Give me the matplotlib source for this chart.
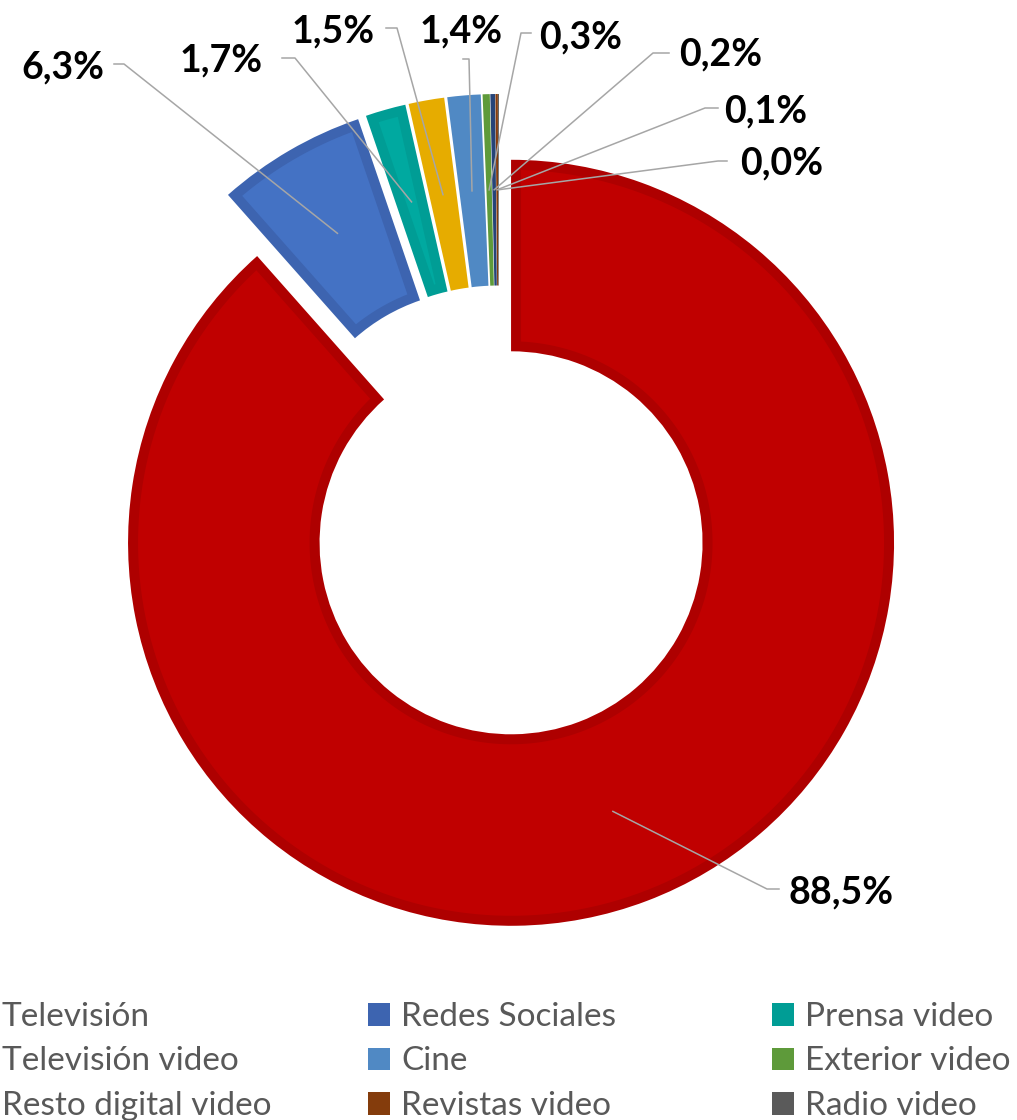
import numpy as np
import matplotlib.pyplot as plt
from matplotlib.patches import Patch

# share of video ad investment by medium (%)
categories = ['Televisión', 'Redes Sociales', 'Prensa video', 'Televisión video',
              'Cine', 'Exterior video', 'Resto digital video', 'Revistas video',
              'Radio video']
shares = [88.5, 6.3, 1.7, 1.5, 1.4, 0.3, 0.2, 0.1, 0.04]

face_colors = ['#C00000', '#4472C4', '#00A9A0', '#FFC000', '#5B9BD5',
               '#6AAA45', '#2F4F86', '#9E480E', '#6E6E6E']
edge_colors = ['#AE0000', '#3D64B0', '#009D95', '#E6AC00', '#5089C4',
               '#5E9A3A', '#264478', '#843C0C', '#5A5A5A']

W, H = 1017, 1120

# label text anchors and leader elbows, in pixels from top-left
label_xy = [(788, 892), (104, 67), (263, 60), (375, 31), (503, 31),
            (539, 37), (679, 54), (724, 111), (740, 163)]
label_ha = ['left', 'right', 'right', 'right', 'right',
            'left', 'left', 'left', 'left']
elbows = [[(779, 889), (767, 889)], [(114, 64), (124, 64)],
          [(282, 58), (295, 58)], [(386, 28), (397, 28)],
          [(463, 59), (469, 59)], [(531, 33), (521, 33)],
          [(669, 53), (653, 53)], [(718, 108), (705, 108)],
          [(727, 161), (718, 161)]]


def flip(x, y):
    return x, H - y


fig = plt.figure(figsize=(W / 100, H / 100), dpi=100)
ax = fig.add_axes([0, 0, 1, 1])

radius = 383
ring = 191.5
wedges, _ = ax.pie(shares, colors=edge_colors, startangle=90,
                   counterclock=False, radius=radius,
                   center=flip(499, 511), explode=[34] * len(shares),
                   wedgeprops=dict(width=ring, linewidth=0))

# lighter inset on each slice -> darker rim like the bevelled Excel slices
band = 10
for w, fc in zip(wedges, face_colors):
    cx, cy = w.center
    t1, t2 = np.deg2rad(w.theta1), np.deg2rad(w.theta2)
    ro = w.r - band
    ri = w.r - w.width + band
    a_o = np.arcsin(band / ro)
    a_i = np.arcsin(band / ri)
    if t2 - t1 <= 2 * a_i:
        continue
    th_o = np.linspace(t1 + a_o, t2 - a_o, 200)
    th_i = np.linspace(t2 - a_i, t1 + a_i, 200)
    xs = np.concatenate([cx + ro * np.cos(th_o), cx + ri * np.cos(th_i)])
    ys = np.concatenate([cy + ro * np.sin(th_o), cy + ri * np.sin(th_i)])
    ax.fill(xs, ys, color=fc, lw=0, zorder=w.get_zorder() + 0.1)

for w, val, (tx, ty), ha, elb in zip(wedges, shares, label_xy,
                                     label_ha, elbows):
    mid = np.deg2rad((w.theta1 + w.theta2) / 2)
    rr = w.r - w.width / 2
    ax_x = w.center[0] + rr * np.cos(mid)
    ax_y = w.center[1] + rr * np.sin(mid)
    pts = [flip(*p) for p in elb]
    xs = [p[0] for p in pts] + [ax_x]
    ys = [p[1] for p in pts] + [ax_y]
    ax.plot(xs, ys, color='#A6A6A6', lw=1.1, zorder=5)
    txt = f'{val:.1f}%'.replace('.', ',')
    ax.text(*flip(tx, ty), txt, ha=ha, va='center', fontsize=27,
            fontweight='bold', family='Lato', color='black', zorder=6)

ax.set_xlim(0, W)
ax.set_ylim(0, H)
ax.set_aspect('auto')
ax.axis('off')

# legend: three columns laid out row by row
col_x = [-31, 368, 772]
for c in range(3):
    idx = [c, c + 3, c + 6]
    handles = [Patch(facecolor=edge_colors[i], edgecolor='none') for i in idx]
    fig.legend(handles, [categories[i] for i in idx], loc='upper left',
               bbox_to_anchor=(col_x[c] / W, 1 - 1002 / H), frameon=False,
               borderpad=0, borderaxespad=0,
               prop=dict(family='Lato', size=24), labelcolor='#595959',
               handlelength=0.66, handleheight=0.66, handletextpad=0.33,
               labelspacing=0.435)

fig.savefig('out.png', dpi=100)
